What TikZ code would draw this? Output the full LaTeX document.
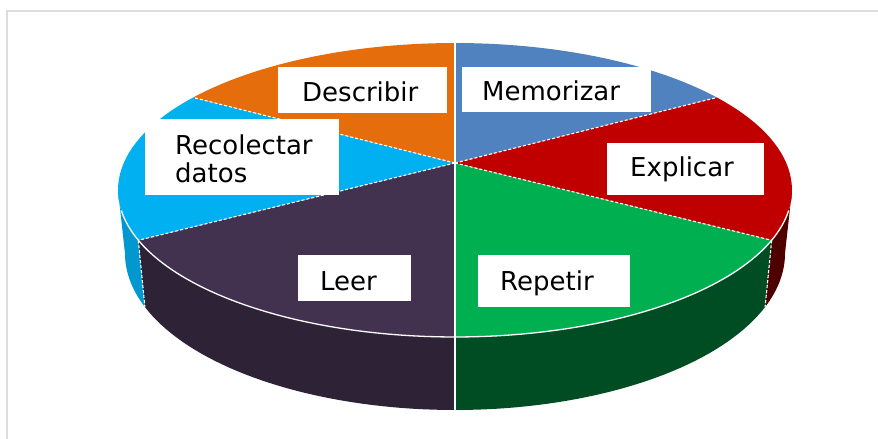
\documentclass[tikz,border=0pt]{standalone}
\usepackage{fontspec}
\setmainfont{DejaVu Sans}
\definecolor{cBlue}{HTML}{5182C0}
\definecolor{cRed}{HTML}{C00000}
\definecolor{cGreen}{HTML}{00B050}
\definecolor{cPurple}{HTML}{433150}
\definecolor{cCyan}{HTML}{00B0F0}
\definecolor{cOrange}{HTML}{E56D0B}
\definecolor{sRed}{HTML}{4E0000}
\definecolor{sGreen}{HTML}{004D24}
\definecolor{sPurple}{HTML}{2E2237}
\definecolor{sCyan}{HTML}{0098CE}
\definecolor{frameGray}{HTML}{DCDCDC}
\tikzset{
  lblbox/.style={fill=white, draw=none, anchor=north west, inner sep=0pt},
  lbltext/.style={anchor=base west, inner sep=0pt, text=black, font=\fontsize{26}{27}\selectfont},
  sepdash/.style={white, line width=1.1pt, dash pattern=on 3pt off 2pt},
  sepsolid/.style={white, line width=1.6pt},
}
\begin{document}
\begin{tikzpicture}[x=1pt,y=-1pt]
\useasboundingbox (0,0) rectangle (878,439);
\fill[white] (0,0) rectangle (878,439);
\draw[frameGray, line width=2pt] (7,460) -- (7,11) -- (900,11);
% top ellipse T(t)=(455+337cos t, 190+147 sin t); bottom B(t)=(455+330cos t, 253.5+156.5 sin t)
% sides
\fill[sRed] plot[domain=0:20,samples=20] ({455+337*cos(\x)},{190+147*sin(\x)}) -- plot[domain=20:0,samples=20] ({455+330*cos(\x)},{253.5+156.5*sin(\x)}) -- cycle;
\fill[sGreen] plot[domain=20:90,samples=40] ({455+337*cos(\x)},{190+147*sin(\x)}) -- plot[domain=90:20,samples=40] ({455+330*cos(\x)},{253.5+156.5*sin(\x)}) -- cycle;
\fill[sPurple] plot[domain=90:160,samples=40] ({455+337*cos(\x)},{190+147*sin(\x)}) -- plot[domain=160:90,samples=40] ({455+330*cos(\x)},{253.5+156.5*sin(\x)}) -- cycle;
\fill[sCyan] plot[domain=160:180,samples=20] ({455+337*cos(\x)},{190+147*sin(\x)}) -- plot[domain=180:160,samples=20] ({455+330*cos(\x)},{253.5+156.5*sin(\x)}) -- cycle;
% top face slices
\coordinate (apex) at (455,163);
\fill[cBlue] (apex) -- plot[domain=-90:-39,samples=30] ({455+337*cos(\x)},{190+147*sin(\x)}) -- cycle;
\fill[cRed] (apex) -- plot[domain=-39:20,samples=30] ({455+337*cos(\x)},{190+147*sin(\x)}) -- cycle;
\fill[cGreen] (apex) -- plot[domain=20:90,samples=30] ({455+337*cos(\x)},{190+147*sin(\x)}) -- cycle;
\fill[cPurple] (apex) -- plot[domain=90:160,samples=30] ({455+337*cos(\x)},{190+147*sin(\x)}) -- cycle;
\fill[cCyan] (apex) -- plot[domain=160:219,samples=30] ({455+337*cos(\x)},{190+147*sin(\x)}) -- cycle;
\fill[cOrange] (apex) -- plot[domain=219:270,samples=30] ({455+337*cos(\x)},{190+147*sin(\x)}) -- cycle;
% rim points
\coordinate (pTop) at (455,43);
\coordinate (pBot) at (455,337);
\coordinate (pBR) at ({455+337*cos(-39)},{190+147*sin(-39)});
\coordinate (pRG) at ({455+337*cos(20)},{190+147*sin(20)});
\coordinate (pPC) at ({455+337*cos(160)},{190+147*sin(160)});
\coordinate (pCO) at ({455+337*cos(219)},{190+147*sin(219)});
\coordinate (qRG) at ({455+330*cos(20)},{253.5+156.5*sin(20)});
\coordinate (qPC) at ({455+330*cos(160)},{253.5+156.5*sin(160)});
\coordinate (qBot) at (455,410);
% separators
\draw[sepsolid] (pTop) -- (apex) -- (pBot) -- (qBot);
\draw[sepdash] (apex) -- (pBR);
\draw[sepdash] (apex) -- (pRG);
\draw[sepdash] (apex) -- (pPC);
\draw[sepdash] (apex) -- (pCO);
\draw[sepdash] (pRG) -- (qRG);
\draw[sepdash] (pPC) -- (qPC);
\draw[white, line width=1.3pt] plot[domain=8:172,samples=80] ({455+337*cos(\x)},{190+147*sin(\x)});
% labels
\node[lblbox, minimum width=169pt, minimum height=46pt] (bDes) at (278,67) {};
\node[lbltext] (tDes) at (302,101) {Describir};
\node[lblbox, minimum width=189pt, minimum height=45pt] (bMem) at (462,67) {};
\node[lbltext] (tMem) at (482,100) {Memorizar};
\node[lblbox, minimum width=157pt, minimum height=52pt] (bExp) at (607,143) {};
\node[lbltext] (tExp) at (630,176) {Explicar};
\node[lblbox, minimum width=194pt, minimum height=76pt] (bRec) at (145,119) {};
\node[lbltext] (tRec1) at (175,154) {Recolectar};
\node[lbltext] (tRec2) at (175,182) {datos};
\node[lblbox, minimum width=113pt, minimum height=46pt] (bLee) at (298,255) {};
\node[lbltext] (tLee) at (320,290) {Leer};
\node[lblbox, minimum width=152pt, minimum height=52pt] (bRep) at (478,255) {};
\node[lbltext] (tRep) at (500,290) {Repetir};
\end{tikzpicture}
\end{document}
